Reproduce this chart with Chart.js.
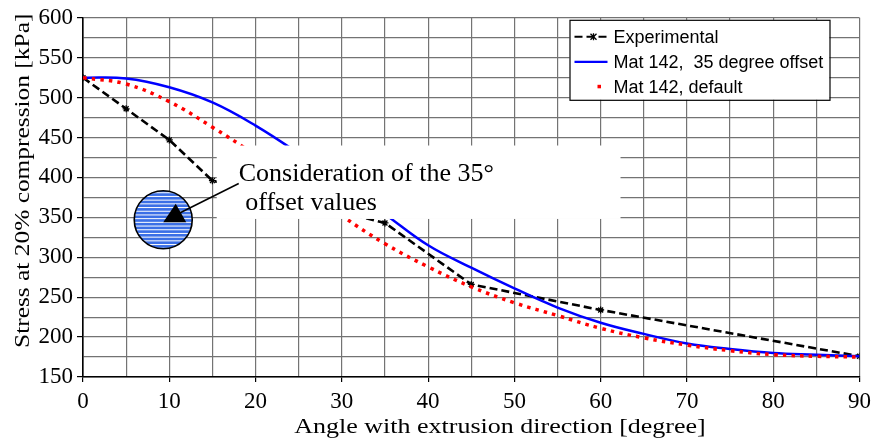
<!DOCTYPE html>
<html>
<head>
<meta charset="utf-8">
<script src="https://cdn.jsdelivr.net/npm/chart.js@4.4.1/dist/chart.umd.min.js"></script>
<style>
  html, body { margin: 0; padding: 0; background: #fff; }
  canvas { display: block; }
</style>
</head>
<body>
<canvas id="stressChart" width="877" height="439"></canvas>
<script>
// Mat 142 simulations, sampled every 5 degrees
const modelAngles = [0, 5, 10, 15, 20, 25, 30, 35, 40, 45, 50, 55, 60, 65, 70, 75, 80, 85, 90];
const offsetStress = [525, 524, 513, 494, 465, 430, 392, 354, 315, 287, 261, 237, 218, 204, 192, 185, 180, 178, 176];
const defaultStress = [525, 517, 495, 463, 428, 391, 352, 317, 288, 263, 243, 227, 211, 199, 190, 183, 178, 176, 175];

// measured points
const expAngles = [0, 5, 10, 15, 35, 45, 60, 90];
const expStress = [525, 486, 447, 396, 343, 266, 234, 176];

const seriesLabels = ['Experimental', 'Mat 142,  35 degree offset', 'Mat 142, default'];
const noteLines = ['Consideration of the 35\u00b0', ' offset values'];
const xTitle = 'Angle with extrusion direction [degree]';
const yTitle = 'Stress at 20% compression [kPa]';

const SERIF = '"Liberation Serif", "Times New Roman", serif';
const SANS = '"Liberation Sans", Arial, sans-serif';

const toPoints = (xs, ys) => xs.map((x, i) => ({ x, y: ys[i] }));

// white callout box (data units) and the striped marker next to it
const noteBox = { x0: 15.5, x1: 62.3, y0: 348, y1: 440 };
const noteMarker = { x: 9.3, y: 347, r: 29 };

const calloutPlugin = {
    id: 'callout',
    afterDatasetsDraw(chart) {
        const { ctx, scales } = chart;
        const xs = scales.x, ys = scales.y;
        const left = xs.getPixelForValue(noteBox.x0);
        const right = xs.getPixelForValue(noteBox.x1);
        const top = ys.getPixelForValue(noteBox.y1);
        const bottom = ys.getPixelForValue(noteBox.y0);

        ctx.save();
        ctx.fillStyle = '#fff';
        ctx.fillRect(left, top, right - left, bottom - top);

        ctx.fillStyle = '#000';
        ctx.font = '26px ' + SERIF;
        ctx.textBaseline = 'alphabetic';
        ctx.textAlign = 'left';
        ctx.fillText(noteLines[0], left + 22, top + 35);
        ctx.fillText(noteLines[1], left + 22, top + 64);

        // striped circle
        const cx = xs.getPixelForValue(noteMarker.x);
        const cy = ys.getPixelForValue(noteMarker.y);
        const r = noteMarker.r;
        ctx.save();
        ctx.beginPath();
        ctx.arc(cx, cy, r, 0, Math.PI * 2);
        ctx.clip();
        ctx.fillStyle = '#3b6fe6';
        ctx.fillRect(cx - r, cy - r, r * 2, r * 2);
        ctx.strokeStyle = '#fff';
        ctx.lineWidth = 1;
        for (let y = cy - r + 2; y < cy + r; y += 3.7) {
            ctx.beginPath();
            ctx.moveTo(cx - r, y);
            ctx.lineTo(cx + r, y);
            ctx.stroke();
        }
        ctx.restore();
        ctx.beginPath();
        ctx.arc(cx, cy, r, 0, Math.PI * 2);
        ctx.strokeStyle = '#000';
        ctx.lineWidth = 1.6;
        ctx.stroke();

        // pointer from the text to the circle, with its triangle head
        ctx.beginPath();
        ctx.moveTo(cx + 17, cy - 7);
        ctx.lineTo(left + 22, top + 38);
        ctx.lineWidth = 1.5;
        ctx.stroke();
        ctx.beginPath();
        ctx.moveTo(cx + 12.5, cy - 16);
        ctx.lineTo(cx, cy + 2.5);
        ctx.lineTo(cx + 23, cy + 2.5);
        ctx.closePath();
        ctx.fillStyle = '#000';
        ctx.fill();
        ctx.restore();
    }
};

const legendBoxPlugin = {
    id: 'legendBox',
    afterDraw(chart) {
        const { ctx, chartArea } = chart;
        const w = 260, h = 80;
        const left = chartArea.right - 30 - w;
        const top = chartArea.top + 2;
        ctx.save();
        ctx.fillStyle = '#fff';
        ctx.fillRect(left, top, w, h);
        ctx.strokeStyle = '#000';
        ctx.lineWidth = 1.2;
        ctx.strokeRect(left + 0.5, top + 0.5, w, h);

        const ds = chart.data.datasets;
        ctx.font = '18px ' + SANS;
        ctx.textBaseline = 'middle';
        ctx.fillStyle = '#000';
        for (let i = 0; i < ds.length; i++) {
            const y = top + 17 + i * 25;
            const d = ds[i];
            ctx.save();
            if (i === 2) {
                ctx.fillStyle = d.borderColor;
                ctx.fillRect(left + 28, y - 2, 3.5, 3.5);
            } else {
                ctx.beginPath();
                ctx.strokeStyle = d.borderColor;
                ctx.lineWidth = i === 0 ? 2 : 2.2;
                ctx.setLineDash(d.borderDash || []);
                ctx.moveTo(left + 5, y);
                ctx.lineTo(left + 38, y);
                ctx.stroke();
                if (i === 0) {
                    ctx.setLineDash([]);
                    ctx.lineWidth = 1.3;
                    ctx.beginPath();
                    ctx.moveTo(left + 21, y - 3);
                    ctx.lineTo(left + 27, y + 3);
                    ctx.moveTo(left + 27, y - 3);
                    ctx.lineTo(left + 21, y + 3);
                    ctx.moveTo(left + 24, y - 3.5);
                    ctx.lineTo(left + 24, y + 3.5);
                    ctx.stroke();
                }
            }
            ctx.restore();
            ctx.fillText(d.label, left + 44, y + 1);
        }
        ctx.restore();
    }
};

const axisTitlePlugin = {
    id: 'axisTitles',
    afterDraw(chart) {
        const { ctx, chartArea } = chart;
        ctx.save();
        ctx.fillStyle = '#000';
        ctx.textAlign = 'center';
        ctx.textBaseline = 'alphabetic';

        // both titles are set wide, as in the original figure
        ctx.font = '20px ' + SERIF;
        ctx.save();
        ctx.translate(chartArea.left + 417, chartArea.bottom + 56);
        ctx.scale(1.3, 1);
        ctx.fillText(xTitle, 0, 0);
        ctx.restore();

        ctx.translate(29, chartArea.top + 163);
        ctx.rotate(-Math.PI / 2);
        ctx.scale(1.27, 1);
        ctx.fillText(yTitle, 0, 0);
        ctx.restore();
    }
};

new Chart(document.getElementById('stressChart'), {
    type: 'line',
    data: {
        datasets: [
            {
                label: seriesLabels[0],
                data: toPoints(expAngles, expStress),
                borderColor: '#000',
                borderWidth: 2.6,
                borderDash: [8, 4],
                tension: 0,
                pointStyle: 'star',
                pointRadius: 3.5,
                pointBorderColor: '#000',
                pointBackgroundColor: '#000',
                pointBorderWidth: 1.3,
                order: 3
            },
            {
                label: seriesLabels[1],
                data: toPoints(modelAngles, offsetStress),
                borderColor: '#0000ff',
                borderWidth: 2.5,
                tension: 0.4,
                pointRadius: 0,
                order: 2
            },
            {
                label: seriesLabels[2],
                data: toPoints(modelAngles, defaultStress),
                borderColor: '#ff0000',
                borderWidth: 3.5,
                borderDash: [3.5, 5.2],
                borderCapStyle: 'butt',
                tension: 0.4,
                pointRadius: 0,
                order: 1
            }
        ]
    },
    plugins: [calloutPlugin, legendBoxPlugin, axisTitlePlugin],
    options: {
        responsive: false,
        animation: false,
        layout: { padding: { top: 15, right: 14, left: 0, bottom: 0 } },
        plugins: {
            legend: { display: false },
            tooltip: { enabled: false }
        },
        scales: {
            x: {
                type: 'linear',
                min: 0,
                max: 90,
                afterFit(scale) { scale.height = 62; },
                ticks: {
                    stepSize: 5,
                    autoSkip: false,
                    maxRotation: 0,
                    padding: 6,
                    color: '#000',
                    font: { family: SERIF, size: 23 },
                    callback: (v) => (v % 10 === 0 ? v : '')
                },
                grid: {
                    color: '#737373',
                    lineWidth: 1.2,
                    tickLength: 5,
                    tickColor: (c) => (c.tick && c.tick.value % 10 === 0 ? '#000' : 'rgba(0,0,0,0)')
                },
                border: { color: '#000', width: 1.6 }
            },
            y: {
                type: 'linear',
                min: 150,
                max: 600,
                afterFit(scale) { scale.width = 83; },
                ticks: {
                    stepSize: 25,
                    autoSkip: false,
                    padding: 4,
                    color: '#000',
                    font: { family: SERIF, size: 23 },
                    callback: (v) => (v % 50 === 0 ? v : '')
                },
                grid: {
                    color: '#737373',
                    lineWidth: 1.2,
                    tickLength: 6,
                    tickColor: (c) => (c.tick && c.tick.value % 50 === 0 ? '#000' : 'rgba(0,0,0,0)')
                },
                border: { color: '#000', width: 1.6 }
            }
        }
    }
});
</script>
</body>
</html>
